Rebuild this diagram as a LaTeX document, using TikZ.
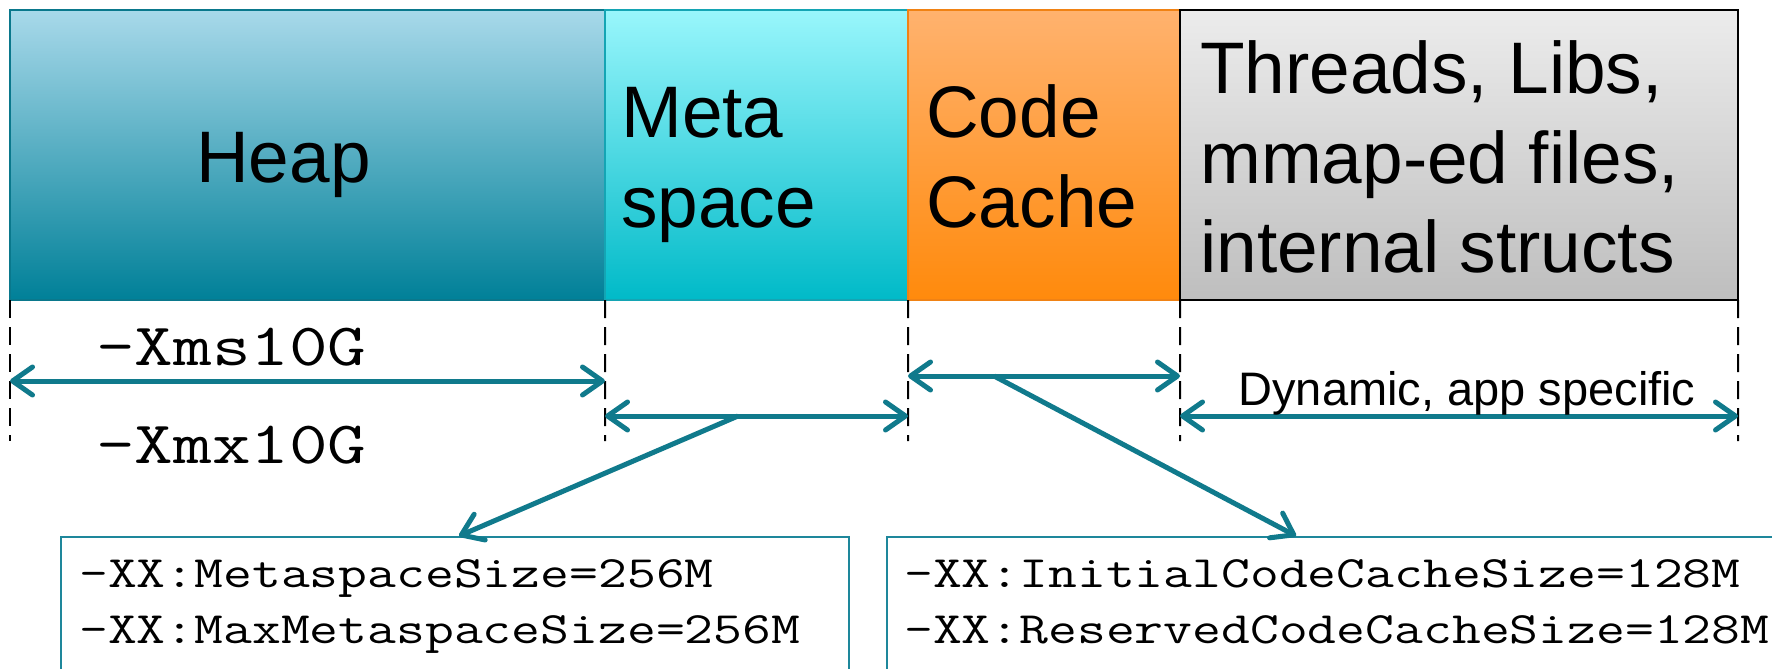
\documentclass[tikz,border=0pt]{standalone}
\usepackage{fontspec}
\setmainfont{Liberation Sans}
\usetikzlibrary{arrows.meta}
\definecolor{arrowc}{RGB}{16,122,140}
\definecolor{boxc}{RGB}{30,135,155}
\definecolor{heapT}{RGB}{168,217,234}
\definecolor{heapB}{RGB}{0,128,152}
\definecolor{heapD}{RGB}{10,120,140}
\definecolor{metaT}{RGB}{153,246,252}
\definecolor{metaB}{RGB}{0,186,200}
\definecolor{metaD}{RGB}{20,165,180}
\definecolor{codeT}{RGB}{255,178,110}
\definecolor{codeB}{RGB}{255,138,12}
\definecolor{codeD}{RGB}{240,130,20}
\definecolor{thrT}{RGB}{236,236,236}
\definecolor{thrB}{RGB}{190,190,190}
\tikzset{
  seg/.style={line width=1.5bp, minimum height=290bp, anchor=north west,
    inner sep=0pt, outer sep=0pt},
  big/.style={inner sep=0pt, font=\fontsize{73bp}{89bp}\selectfont, align=left, anchor=base west},
  guide/.style={draw=black, line width=2bp, dash pattern=on 18bp off 9bp},
  dimarrow/.style={draw=arrowc, line width=5bp,
    {Straight Barb[length=20bp,width=28bp,round]}-{Straight Barb[length=20bp,width=28bp,round]}},
  lead/.style={draw=arrowc, line width=5bp, -{Straight Barb[length=20bp,width=28bp,round]}},
  optbox/.style={draw=boxc, line width=2bp, anchor=north west, minimum height=200bp, inner sep=0pt},
  monobig/.style={inner sep=0pt, anchor=base west, font=\fontsize{75bp}{80bp}\selectfont\ttfamily},
  monosmall/.style={inner sep=0pt, anchor=base west, align=left, font=\fontsize{56bp}{56bp}\selectfont\ttfamily},
  note/.style={inner sep=0pt, anchor=base, font=\fontsize{47bp}{56bp}\selectfont}
}
\begin{document}
\begin{tikzpicture}[x=1bp,y=-1bp]
\path[use as bounding box, clip] (0,0) rectangle (1772,669);
\fill[white] (0,0) rectangle (1772,669);

% segments
\node[seg, draw=heapD, top color=heapT, bottom color=heapB, minimum width=595bp] (heap) at (10,10) {};
\node[seg, draw=metaD, top color=metaT, bottom color=metaB, minimum width=303bp] (meta) at (605,10) {};
\node[seg, draw=codeD, top color=codeT, bottom color=codeB, minimum width=272bp] (code) at (908,10) {};
\node[seg, draw=black, top color=thrT, bottom color=thrB, minimum width=558bp] (thr) at (1180,10) {};

\node[big] (heapt) at (196,182) {Heap};
\node[big] (metat) at (621,227) {Meta\\space};
\node[big] (codet) at (926,227) {Code\\Cache};
\node[big] (thrt) at (1200,272) {Threads, Libs,\\mmap-ed files,\\internal structs};

% guides
\coordinate (g1) at (10,441);
\coordinate (g2) at (605,441);
\coordinate (g3) at (908,441);
\coordinate (g4) at (1180,441);
\coordinate (g5) at (1738,441);
\draw[guide] (heap.south west) -- (g1);
\draw[guide] (heap.south east) -- (g2);
\draw[guide] (meta.south east) -- (g3);
\draw[guide] (code.south east) -- (g4);
\draw[guide] (thr.south east) -- (g5);

% dimension arrows
\coordinate (a1) at (10,381);
\coordinate (a2) at (605,381);
\coordinate (b1) at (605,416);
\coordinate (b2) at (908,416);
\coordinate (c1) at (908,376);
\coordinate (c2) at (1180,376);
\coordinate (d1) at (1180,416);
\coordinate (d2) at (1738,416);
\draw[dimarrow] (a1) -- (a2);
\draw[dimarrow] (b1) -- (b2);
\draw[dimarrow] (c1) -- (c2);
\draw[dimarrow] (d1) -- (d2);

\node[monobig] (xms) at (96,365) {\scalebox{1}[0.8]{-Xms10G}};
\node[monobig] (xmx) at (96,463) {\scalebox{1}[0.8]{-Xmx10G}};
\node[note] (dyn) at (1467,405) {Dynamic, app specific};

% option boxes
\node[optbox, minimum width=788bp] (mbox) at (60,536) {};
\node[optbox, minimum width=920bp] (cbox) at (886,536) {};
\node[monosmall] (mtext) at (79,643)
  {\scalebox{1}[0.8]{-XX:MetaspaceSize=256M}\\\scalebox{1}[0.8]{-XX:MaxMetaspaceSize=256M}};
\node[monosmall] (ctext) at (904,643)
  {\scalebox{1}[0.8]{-XX:InitialCodeCacheSize=128M}\\\scalebox{1}[0.8]{-XX:ReservedCodeCacheSize=128M}};

% leaders
\coordinate (ms) at (738,416);
\coordinate (mt) at (459,536);
\coordinate (cs) at (994,376);
\coordinate (ct) at (1296,536);
\draw[lead] (ms) -- (mt);
\draw[lead] (cs) -- (ct);
\end{tikzpicture}
\end{document}
